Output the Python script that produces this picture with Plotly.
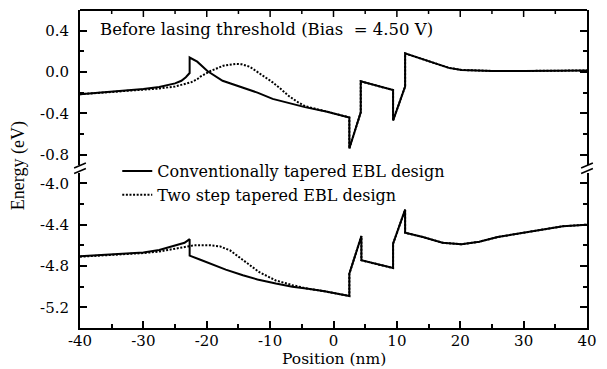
import plotly.graph_objects as go

# ---------------- data ----------------
# Conduction band (top panel), conventional design (solid)
conv_cb_pos = [-40, -35, -30, -27.5, -25, -24, -23.3, -22.7, -22.7, -21.5, -19.9, -17.5, -15.8,
               -14.8, -12, -9.6, -6, -4.5, -1, 2.5, 2.5, 4.3, 4.3, 9.4, 9.4, 11.3, 11.3,
               14.1, 16, 18.2, 20.2, 25, 30, 35, 40]
conv_cb_e = [-0.215, -0.19, -0.165, -0.145, -0.11, -0.085, -0.05, -0.01, 0.14, 0.10, 0.01, -0.085, -0.12,
             -0.14, -0.20, -0.26, -0.315, -0.34, -0.385, -0.44, -0.74, -0.39, -0.09, -0.175, -0.47, -0.14, 0.18,
             0.125, 0.085, 0.04, 0.02, 0.01, 0.01, 0.01, 0.015]

# Conduction band, two step design (dotted)
two_cb_pos = [-40, -35, -30, -27.5, -25, -23.5, -22.5, -21.5, -21, -19.4, -17.4, -15.5, -14.5,
              -13.2, -12.2, -10.8, -9.6, -8.3, -7.1, -5.8, -4.5, -1.9, -1, 2.5, 2.5, 4.3, 4.3,
              9.4, 9.4, 11.3, 11.3, 14.1, 16, 18.2, 20.2, 25, 30, 35, 40]
two_cb_e = [-0.215, -0.195, -0.175, -0.16, -0.14, -0.12, -0.10, -0.07, -0.045, 0.01, 0.06, 0.078, 0.075,
            0.05, 0.01, -0.045, -0.10, -0.165, -0.23, -0.285, -0.33, -0.37, -0.385, -0.44, -0.74, -0.39, -0.09,
            -0.175, -0.47, -0.14, 0.18, 0.125, 0.085, 0.04, 0.02, 0.01, 0.01, 0.01, 0.015]

# Valence band (bottom panel), conventional design (solid)
conv_vb_pos = [-40, -35, -30, -27.5, -25, -23.5, -22.7, -22.7, -21, -19.4, -17, -14.3, -12, -9.1,
               -6.5, -4, -1.4, 2.5, 2.5, 4.4, 4.4, 9.4, 9.4, 11.3, 11.3, 14.1, 17.2, 20.2, 23,
               25.9, 31, 36.2, 40]
conv_vb_e = [-4.705, -4.69, -4.67, -4.645, -4.605, -4.575, -4.54, -4.70, -4.74, -4.78, -4.835, -4.89, -4.93, -4.97,
             -5.00, -5.02, -5.045, -5.09, -4.875, -4.51, -4.745, -4.82, -4.585, -4.255, -4.478, -4.52, -4.575, -4.59, -4.565,
             -4.52, -4.47, -4.415, -4.40]

# Valence band, two step design (dotted)
two_vb_pos = [-40, -35, -30, -27.5, -25, -23.5, -22, -19.4, -17.9, -16.3, -14.3, -11.7, -9.1, -6.5,
              -4, -1.4, 2.5, 2.5, 4.4, 4.4, 9.4, 9.4, 11.3, 11.3, 14.1, 17.2, 20.2, 23,
              25.9, 31, 36.2, 40]
two_vb_e = [-4.71, -4.695, -4.675, -4.66, -4.635, -4.615, -4.60, -4.60, -4.61, -4.65, -4.745, -4.86, -4.94, -4.985,
            -5.02, -5.045, -5.09, -4.875, -4.51, -4.745, -4.82, -4.585, -4.255, -4.478, -4.52, -4.575, -4.59, -4.565,
            -4.52, -4.47, -4.415, -4.40]

series_names = ["Conventionally tapered EBL design", "Two step tapered EBL design"]

x_tickvals = [-40, -30, -20, -10, 0, 10, 20, 30, 40]
x_ticktext = ["-40", "-30", "-20", "-10", "0", "10", "20", "30", "40"]
top_tickvals = [0.4, 0.0, -0.4, -0.8]
top_ticktext = ["0.4", "0.0", "-0.4", "-0.8"]
bot_tickvals = [-4.0, -4.4, -4.8, -5.2]
bot_ticktext = ["-4.0", "-4.4", "-4.8", "-5.2"]

title_text = "Before lasing threshold (Bias\u00a0 = 4.50 V)"
x_title = "Position (nm)"
y_title = "Energy (eV)"

# ---------------- figure ----------------
FONT = "DejaVu Serif"
FONT_NARROW = "Liberation Serif"
W, H = 607, 369
ML, MR, MT, MB = 80, 10, 10, 41
PW, PH = W - ML - MR, H - MT - MB

def py(p):
    return (H - MB - p) / PH

def px(p):
    return (p - ML) / PW

fig = go.Figure()
lw = 2
DOT = "2px,1.6px"
fig.add_trace(go.Scatter(x=two_cb_pos, y=two_cb_e, mode="lines", name=series_names[1],
                         line=dict(color="black", width=lw, dash=DOT),
                         xaxis="x2", yaxis="y", legendrank=2))
fig.add_trace(go.Scatter(x=two_vb_pos, y=two_vb_e, mode="lines", showlegend=False,
                         line=dict(color="black", width=lw, dash=DOT),
                         xaxis="x", yaxis="y2"))
fig.add_trace(go.Scatter(x=conv_cb_pos, y=conv_cb_e, mode="lines", name=series_names[0],
                         line=dict(color="black", width=lw),
                         xaxis="x2", yaxis="y", legendrank=1))
fig.add_trace(go.Scatter(x=conv_vb_pos, y=conv_vb_e, mode="lines", showlegend=False,
                         line=dict(color="black", width=lw),
                         xaxis="x", yaxis="y2"))

MAJ_LEN, MIN_LEN, TW = 7, 4, 1.5
axis_common = dict(showgrid=False, zeroline=False, showline=True, linecolor="black", linewidth=2,
                   ticks="inside", ticklen=MAJ_LEN, tickwidth=TW, tickcolor="black",
                   tickfont=dict(family=FONT, size=15, color="black"))
minor_x = dict(tickmode="linear", tick0=0, dtick=5, ticks="inside", ticklen=MIN_LEN, tickwidth=TW, tickcolor="black")
minor_y = dict(tickmode="linear", tick0=0, dtick=0.2, ticks="inside", ticklen=MIN_LEN, tickwidth=TW, tickcolor="black")

gap = 8 / PH
half = (1 - gap) / 2

fig.update_layout(
    width=W, height=H, margin=dict(l=ML, r=MR, t=MT, b=MB),
    paper_bgcolor="white", plot_bgcolor="white",
    font=dict(family=FONT, color="black"),
    showlegend=True,
    legend=dict(x=px(118), y=py(154), xanchor="left", yanchor="top",
                bgcolor="rgba(0,0,0,0)", font=dict(family=FONT, size=16, color="black"),
                tracegroupgap=0),
    xaxis=dict(range=[-40, 40], domain=[0, 1], anchor="y2", side="bottom", tickmode="array",
               tickvals=x_tickvals, ticktext=x_ticktext, minor=minor_x, mirror=False,
               ticklabelstandoff=-2, **axis_common),
    xaxis2=dict(range=[-40, 40], domain=[0, 1], anchor="y", side="top",
                showticklabels=False, showline=False, ticks="", showgrid=False, zeroline=False),
    yaxis=dict(range=[-0.9, 0.6], domain=[1 - half, 1], anchor="x2", tickmode="array",
               tickvals=top_tickvals, ticktext=top_ticktext, minor=minor_y, mirror="allticks",
               ticklabelstandoff=6, **axis_common),
    yaxis2=dict(range=[-5.4, -3.9], domain=[0, half], anchor="x", tickmode="array",
                tickvals=bot_tickvals, ticktext=bot_ticktext, minor=minor_y, mirror="allticks",
                ticklabelstandoff=6, **axis_common),
)

# top frame line with inward ticks (drawn from the x tick values)
fig.add_shape(type="line", xref="paper", yref="paper", x0=0, x1=1, y0=1, y1=1,
              line=dict(color="black", width=2))
minor_vals = [(a + b) / 2 for a, b in zip(x_tickvals[:-1], x_tickvals[1:])]
for v in x_tickvals[1:-1]:
    fig.add_shape(type="line", xref="x", yref="paper", x0=v, x1=v, y0=1, y1=1 - MAJ_LEN / PH,
                  line=dict(color="black", width=TW))
for v in minor_vals:
    fig.add_shape(type="line", xref="x", yref="paper", x0=v, x1=v, y0=1, y1=1 - MIN_LEN / PH,
                  line=dict(color="black", width=TW))

fig.add_annotation(text=title_text, x=px(98), y=py(30), xref="paper", yref="paper",
                   xanchor="left", yanchor="middle", showarrow=False,
                   font=dict(family=FONT, size=16.5, color="black"))
fig.add_annotation(text=x_title, x=0.5, y=py(359), xref="paper", yref="paper",
                   xanchor="center", yanchor="middle", showarrow=False,
                   font=dict(family=FONT, size=15.5, color="black"))
fig.add_annotation(text=y_title, x=px(17), y=py(166), xref="paper", yref="paper",
                   xanchor="center", yanchor="middle", showarrow=False, textangle=-90,
                   font=dict(family=FONT_NARROW, size=18, color="black"))

# axis-break marks on left and right axes
for ax_x in (ML, ML + PW):
    for yc in (165.5, 171):
        fig.add_shape(type="line", xref="paper", yref="paper",
                      x0=px(ax_x - 6), y0=py(yc + 2.5), x1=px(ax_x + 6), y1=py(yc - 2.5),
                      line=dict(color="black", width=1.5))

fig.write_html("out.html")
